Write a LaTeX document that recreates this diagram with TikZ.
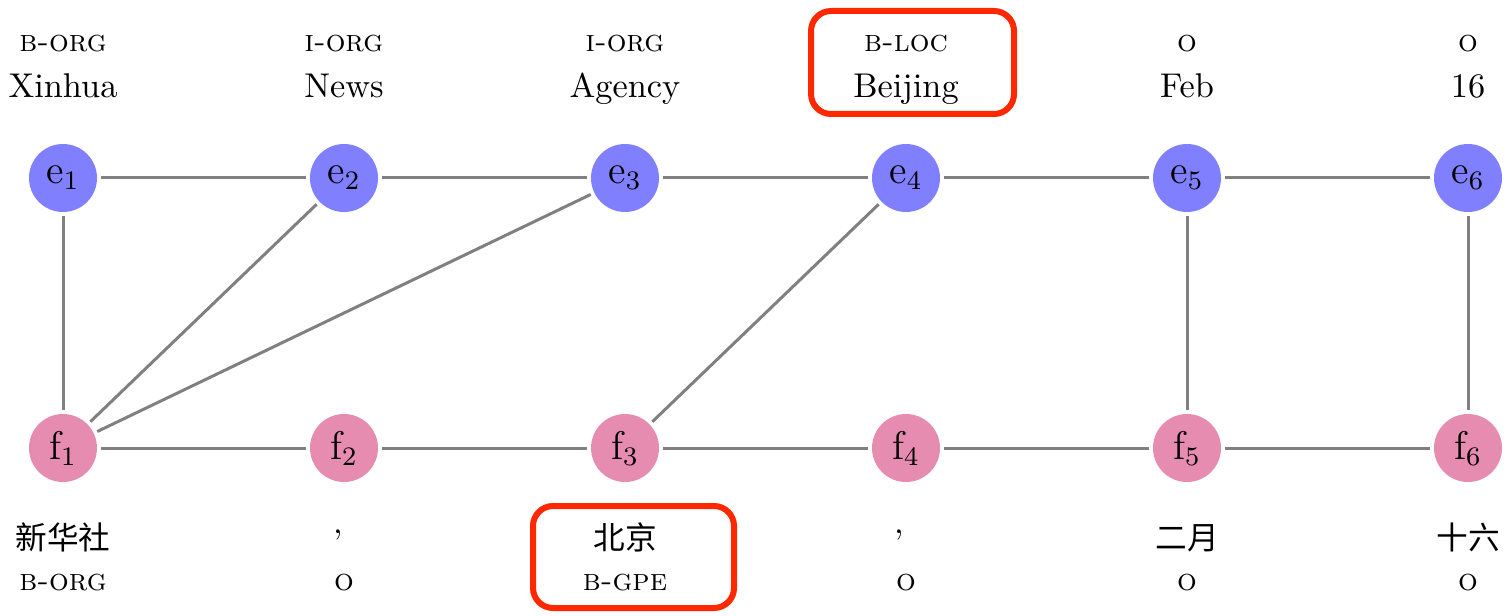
\documentclass[tikz,border=0pt]{standalone}
\usepackage{fontspec}
\newfontfamily\cjk{Noto Sans CJK SC}
\usetikzlibrary{positioning}
\definecolor{enode}{RGB}{128,128,255}
\definecolor{fnode}{RGB}{230,140,176}
\definecolor{boxred}{RGB}{255,40,0}
\tikzstyle{line}=[-, gray, line width=0.9pt]
\tikzstyle{enode}=[circle, fill=enode, minimum size=20.4pt, inner sep=0pt, outer sep=1.2pt, font=\large]
\tikzstyle{fnode}=[circle, fill=fnode, minimum size=20.4pt, inner sep=0pt, outer sep=1.2pt, font=\large]
\tikzstyle{word}=[anchor=base, inner sep=0pt, font=\fontsize{10.3}{12}\selectfont]
\tikzstyle{hanzi}=[anchor=base, inner sep=0pt, font=\fontsize{9.5}{12}\selectfont\cjk]
\tikzstyle{tag}=[anchor=base, inner sep=0pt, font=\fontsize{9.3}{11}\selectfont]
\tikzstyle{hilite}=[draw=boxred, line width=1.8pt, rounded corners=6pt]

\begin{document}
\begin{tikzpicture}[x=0.3pt, y=-0.3pt]
    \useasboundingbox (0,0) rectangle (1510,616);

    % english side
    \node[tag] (te1) at (63,52) {\textsc{b-org}};
    \node[tag] (te2) at (344,52) {\textsc{i-org}};
    \node[tag] (te3) at (625,52) {\textsc{i-org}};
    \node[tag] (te4) at (906,52) {\textsc{b-loc}};
    \node[tag] (te5) at (1187,52) {\textsc{o}};
    \node[tag] (te6) at (1468,52) {\textsc{o}};

    \node[word] (we1) at (63,98) {Xinhua};
    \node[word] (we2) at (344,98) {News};
    \node[word] (we3) at (625,98) {Agency};
    \node[word] (we4) at (906,98) {Beijing};
    \node[word] (we5) at (1187,98) {Feb};
    \node[word] (we6) at (1468,98) {16};

    % chinese side
    \node[hanzi] (wf1) at (63,549) {新华社};
    \node[word] (wf2) at (338,533) {,};
    \node[hanzi] (wf3) at (625,549) {北京};
    \node[word] (wf4) at (899,533) {,};
    \node[hanzi] (wf5) at (1187,549) {二月};
    \node[hanzi] (wf6) at (1468,549) {十六};

    \node[tag] (tf1) at (63,590) {\textsc{b-org}};
    \node[tag] (tf2) at (344,590) {\textsc{o}};
    \node[tag] (tf3) at (625,590) {\textsc{b-gpe}};
    \node[tag] (tf4) at (906,590) {\textsc{o}};
    \node[tag] (tf5) at (1187,590) {\textsc{o}};
    \node[tag] (tf6) at (1468,590) {\textsc{o}};

    % graph nodes
    \foreach \i/\x in {1/63, 2/344, 3/625, 4/906, 5/1187, 6/1468} {
        \node[enode] (e\i) at (\x,178) {e$_\i$};
        \node[fnode] (f\i) at (\x,448) {f$_\i$};
    }

    \draw[line] (e1) -- (e2);
    \draw[line] (e2) -- (e3);
    \draw[line] (e3) -- (e4);
    \draw[line] (e4) -- (e5);
    \draw[line] (e5) -- (e6);
    \draw[line] (f1) -- (f2);
    \draw[line] (f2) -- (f3);
    \draw[line] (f3) -- (f4);
    \draw[line] (f4) -- (f5);
    \draw[line] (f5) -- (f6);
    \draw[line] (e1) -- (f1);
    \draw[line] (e2) -- (f1);
    \draw[line] (e3) -- (f1);
    \draw[line] (e4) -- (f3);
    \draw[line] (e5) -- (f5);
    \draw[line] (e6) -- (f6);

    % highlighted entities
    \draw[hilite] (811,11) rectangle (1014,114);
    \draw[hilite] (533,506) rectangle (734,608);
\end{tikzpicture}
\end{document}
